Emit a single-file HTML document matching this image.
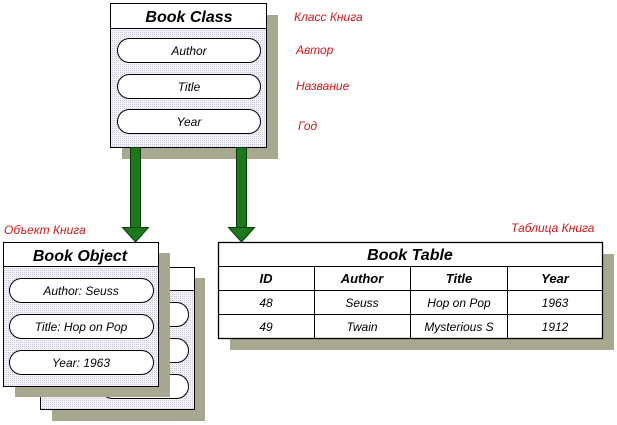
<!DOCTYPE html>
<html><head><meta charset="utf-8"><style>
html,body{margin:0;padding:0;background:#fff;width:617px;height:425px;overflow:hidden}
svg text{font-family:"Liberation Sans",sans-serif;font-style:italic}
</style></head><body>
<svg width="617" height="425" viewBox="0 0 617 425" xmlns="http://www.w3.org/2000/svg">
<defs>
<pattern id="dots" width="2" height="2" patternUnits="userSpaceOnUse">
<rect width="2" height="2" fill="#f4f4f8"/><rect width="1" height="1" fill="#c8c8d8"/>
</pattern>
</defs>
<rect x="122" y="15" width="156" height="144" fill="#a8a890"/>
<rect x="110.5" y="3.5" width="156" height="144" fill="url(#dots)" stroke="#000"/>
<rect x="110.5" y="3.5" width="156" height="25" fill="#fff" stroke="#000"/>
<text x="189" y="22" font-size="16" font-weight="bold" text-anchor="middle">Book Class</text>
<g fill="#fff" stroke="#000">
<rect x="117.5" y="38.5" width="143" height="24" rx="12"/>
<rect x="117.5" y="74.5" width="143" height="24" rx="12"/>
<rect x="117.5" y="109.5" width="143" height="24" rx="12"/>
</g>
<g font-size="12" text-anchor="middle" fill="#000">
<text x="189" y="55">Author</text><text x="189" y="91">Title</text><text x="189" y="126">Year</text>
</g>
<g fill="#1a7a1a" stroke="#0a3a0a">
<rect x="130.5" y="147.5" width="10" height="80"/>
<polygon points="122.5,227.5 148.5,227.5 135.5,242"/>
<rect x="236.5" y="147.5" width="10" height="80"/>
<polygon points="228.5,227.5 254.5,227.5 241.5,242"/>
</g>
<rect x="52" y="278" width="153" height="143" fill="#a8a890"/>
<rect x="40.5" y="267.5" width="154" height="142" fill="url(#dots)" stroke="#000"/>
<rect x="40.5" y="267.5" width="154" height="23" fill="#fff" stroke="#000"/>
<g fill="#fff" stroke="#000">
<rect x="100.5" y="302.5" width="88" height="24" rx="12"/>
<rect x="100.5" y="338.5" width="88" height="24" rx="12"/>
<rect x="100.5" y="374.5" width="88" height="24" rx="12"/>
</g>
<rect x="15" y="253" width="155" height="144" fill="#a8a890"/>
<rect x="3.5" y="242.5" width="155" height="144" fill="url(#dots)" stroke="#000"/>
<rect x="3.5" y="242.5" width="155" height="24" fill="#fff" stroke="#000"/>
<text x="80" y="261" font-size="16" font-weight="bold" text-anchor="middle">Book Object</text>
<g fill="#fff" stroke="#000">
<rect x="9.5" y="278.5" width="144" height="24" rx="12"/>
<rect x="9.5" y="314.5" width="144" height="24" rx="12"/>
<rect x="9.5" y="350.5" width="144" height="24" rx="12"/>
</g>
<g font-size="12" text-anchor="middle">
<text x="81" y="295">Author: Seuss</text><text x="81" y="331">Title: Hop on Pop</text><text x="81" y="367">Year: 1963</text>
</g>
<rect x="230" y="254" width="384" height="96" fill="#a8a890"/>
<rect x="218.5" y="242.5" width="384" height="96" fill="#fff" stroke="#000" stroke-width="1.3"/>
<g stroke="#000">
<line x1="218" y1="266.5" x2="603" y2="266.5"/>
<line x1="218" y1="290.5" x2="603" y2="290.5"/>
<line x1="218" y1="314.5" x2="603" y2="314.5"/>
<line x1="314.5" y1="266" x2="314.5" y2="338"/>
<line x1="410.5" y1="266" x2="410.5" y2="338"/>
<line x1="507.5" y1="266" x2="507.5" y2="338"/>
</g>
<text x="410" y="260" font-size="16" font-weight="bold" text-anchor="middle">Book Table</text>
<g font-size="13" font-weight="bold" text-anchor="middle">
<text x="266" y="283">ID</text><text x="362" y="283">Author</text><text x="459" y="283">Title</text><text x="555" y="283">Year</text>
</g>
<g font-size="12" text-anchor="middle">
<text x="266" y="307">48</text><text x="362" y="307">Seuss</text><text x="459" y="307">Hop on Pop</text><text x="555" y="307">1963</text>
<text x="266" y="331">49</text><text x="362" y="331">Twain</text><text x="459" y="331">Mysterious S</text><text x="555" y="331">1912</text>
</g>
<g font-size="12" fill="#d01818">
<text x="294" y="21">Класс Книга</text>
<text x="296" y="54">Автор</text>
<text x="296" y="90">Название</text>
<text x="298" y="130">Год</text>
<text x="4" y="234">Объект Книга</text>
<text x="511" y="232">Таблица Книга</text>
</g>
</svg>
</body></html>
